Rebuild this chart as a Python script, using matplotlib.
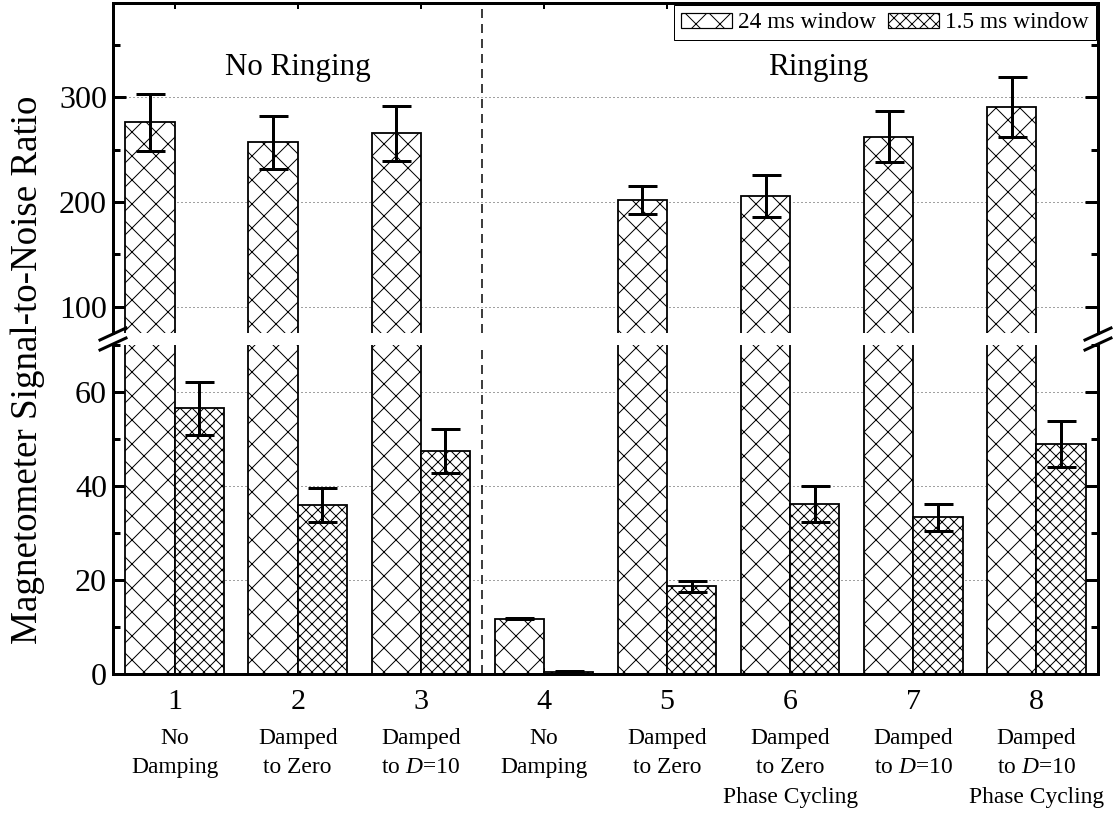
import numpy as np
import matplotlib
matplotlib.use('Agg')
import matplotlib.pyplot as plt
from matplotlib.patches import Patch
from matplotlib.ticker import MultipleLocator

plt.rcParams['font.family'] = ['Liberation Serif', 'DejaVu Serif']
plt.rcParams['mathtext.fontset'] = 'custom'
plt.rcParams['mathtext.rm'] = 'Liberation Serif'
plt.rcParams['mathtext.it'] = 'Liberation Serif:italic'
plt.rcParams['hatch.linewidth'] = 1.0

# data
groups = [1, 2, 3, 4, 5, 6, 7, 8]
snr_24 = [276, 257, 265.5, 11.8, 202, 205.7, 262.5, 290.8]
err_24 = [27, 25.5, 26.5, 0.2, 13.7, 20, 24.5, 28.7]
snr_15 = [56.5, 36.0, 47.4, 0.5, 18.7, 36.2, 33.3, 48.9]
err_15 = [5.7, 3.6, 4.7, 0.2, 1.15, 3.85, 2.8, 4.9]
descriptions = ['No\nDamping', 'Damped\nto Zero', 'Damped\nto $D$=10', 'No\nDamping',
                'Damped\nto Zero', 'Damped\nto Zero\nPhase Cycling', 'Damped\nto $D$=10',
                'Damped\nto $D$=10\nPhase Cycling']
section_labels = ['No Ringing', 'Ringing']
legend_labels = ['24 ms window', '1.5 ms window']

W, H, DPI = 1114, 814, 72
fig = plt.figure(figsize=(W / DPI, H / DPI), dpi=DPI)
left, right = 113 / W, 1098 / W
ax_top = fig.add_axes([left, 1 - 333 / H, right - left, 330 / H])
ax_bot = fig.add_axes([left, 1 - 674 / H, right - left, 329 / H])

x = np.array(groups)
bw = 0.4
for ax in (ax_top, ax_bot):
    ax.bar(x - bw / 2, snr_24, bw, color='white', edgecolor='black', hatch='x', linewidth=1.8, zorder=2)
    ax.bar(x + bw / 2, snr_15, bw, color='white', edgecolor='black', hatch='xx', linewidth=1.8, zorder=2)
    ax.errorbar(x - bw / 2, snr_24, yerr=err_24, fmt='none', ecolor='black', elinewidth=3,
                capsize=14.5, capthick=3, zorder=3)
    ax.errorbar(x + bw / 2, snr_15, yerr=err_15, fmt='none', ecolor='black', elinewidth=3,
                capsize=14.5, capthick=3, zorder=3)
    ax.axvline(3.5, color='black', linestyle=(0, (6, 4)), linewidth=1.5, zorder=1)
    ax.set_xlim(0.5, 8.5)
    ax.grid(axis='y', which='major', linestyle=(0, (1, 3)), color='#444444', linewidth=1, zorder=0)
    ax.set_axisbelow(True)
    for s in ax.spines.values():
        s.set_linewidth(3)
    ax.tick_params(axis='y', which='major', direction='in', length=13, width=3,
                   labelsize=32, pad=6, left=True, right=True)
    ax.tick_params(axis='y', which='minor', direction='in', length=7, width=3, left=True, right=True)

ax_top.set_ylim(75, 390)
ax_top.yaxis.set_major_locator(MultipleLocator(100))
ax_top.yaxis.set_minor_locator(MultipleLocator(50))
ax_top.spines['bottom'].set_visible(False)
ax_top.set_xticks(groups)
ax_top.tick_params(axis='x', which='both', bottom=False, labelbottom=False, top=True,
                   direction='in', length=6, width=2)

ax_bot.set_ylim(0, 70)
ax_bot.yaxis.set_major_locator(MultipleLocator(20))
ax_bot.yaxis.set_minor_locator(MultipleLocator(10))
ax_bot.spines['top'].set_visible(False)
ax_bot.set_xticks(groups)
ax_bot.set_xticklabels([str(g) for g in groups], fontsize=30)
ax_bot.tick_params(axis='x', direction='in', length=6, width=2, pad=15)

for g, d in zip(groups, descriptions):
    ax_bot.annotate(d, xy=(g, 0), xycoords=('data', 'axes fraction'), xytext=(0, -54),
                    textcoords='offset points', ha='center', va='top', fontsize=23.5,
                    linespacing=1.52, annotation_clip=False)

ax_top.text(2.0, 328, section_labels[0], ha='center', va='center', fontsize=31)
ax_top.text(6.23, 328, section_labels[1], ha='center', va='center', fontsize=31)

# axis break marks
dx, dy = 13 / 985, 6 / 330
kw = dict(color='black', linewidth=3, clip_on=False)
for xe in (0, 1):
    ax_top.plot([xe - dx, xe + dx], [-0.003 - dy, -0.003 + dy], transform=ax_top.transAxes, **kw)
    ax_bot.plot([xe - dx, xe + dx], [1.003 - dy, 1.003 + dy], transform=ax_bot.transAxes, **kw)

handles = [Patch(facecolor='white', edgecolor='black', hatch='x', linewidth=1.2),
           Patch(facecolor='white', edgecolor='black', hatch='xx', linewidth=1.2)]
leg = ax_top.legend(handles, legend_labels, loc='upper right', ncol=2, fontsize=23.4,
                    frameon=True, fancybox=False, edgecolor='black', framealpha=1,
                    handlelength=2.2, handleheight=0.6, handletextpad=0.25, columnspacing=0.5,
                    borderpad=0.3, borderaxespad=0.1)
leg.get_frame().set_linewidth(1)

fig.text(28 / W, 1 - 370 / H, 'Magnetometer Signal-to-Noise Ratio', rotation=90,
         ha='center', va='center', fontsize=37)

fig.savefig('out.png', dpi=DPI)
